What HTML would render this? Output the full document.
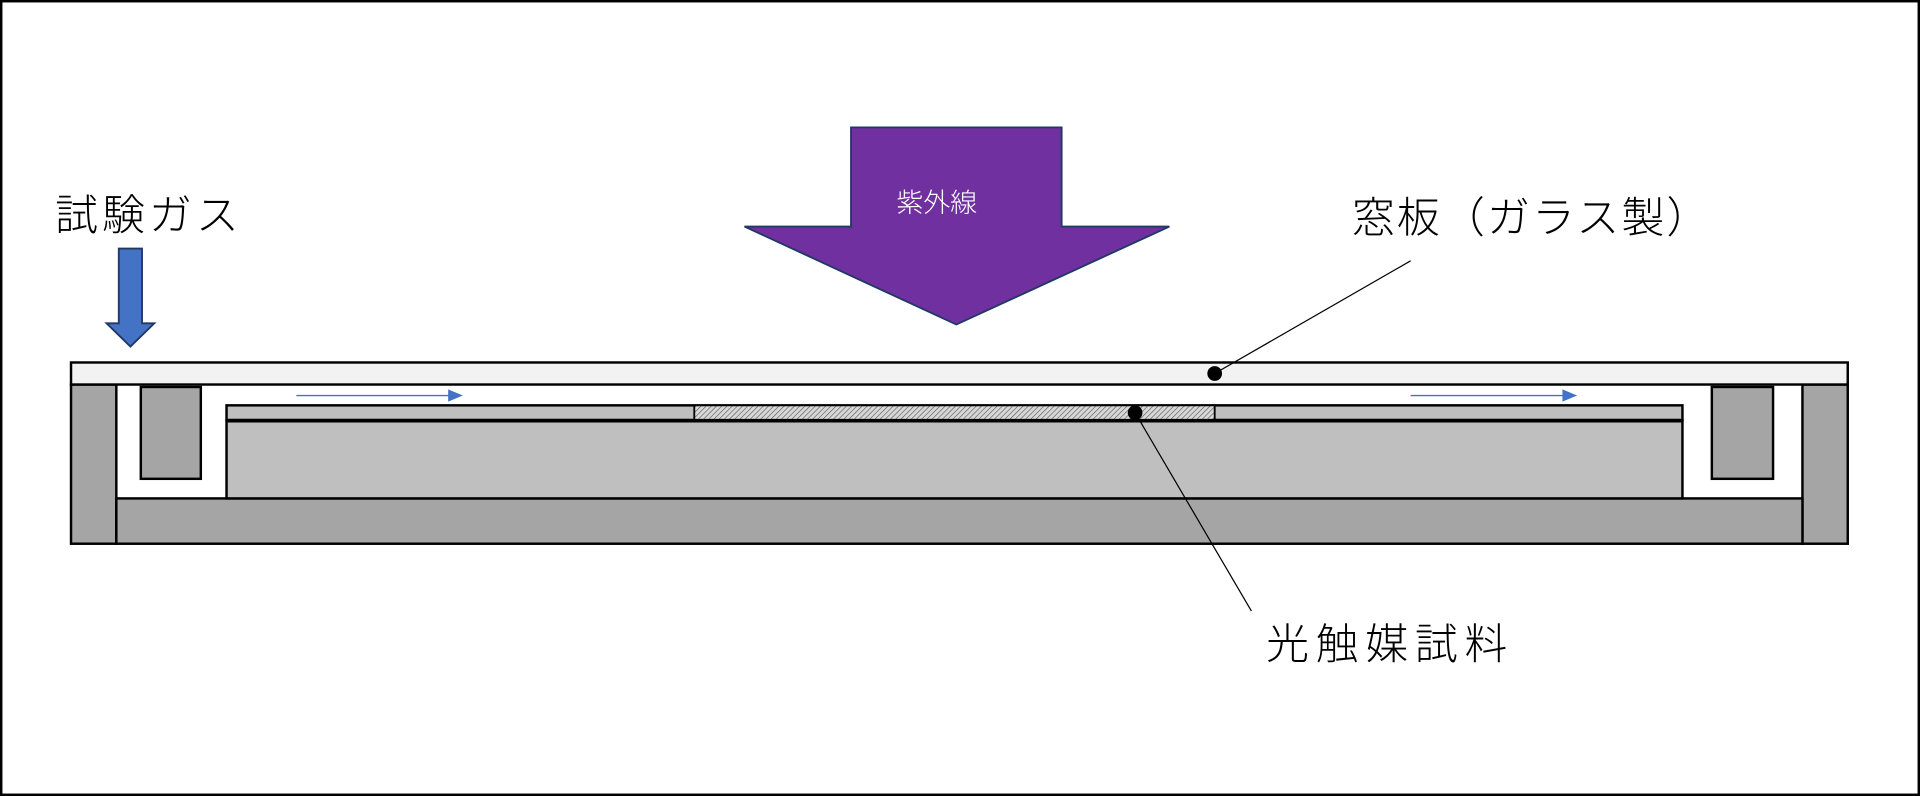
<!DOCTYPE html>
<html><head><meta charset="utf-8"><style>
html,body{margin:0;padding:0;background:#fff;}
svg{display:block;}
text{font-family:"Liberation Sans","Noto Sans CJK JP",sans-serif;font-weight:300;}
</style></head><body>
<svg width="1920" height="796" viewBox="0 0 1568 650" preserveAspectRatio="none" xmlns="http://www.w3.org/2000/svg">
<defs>
<pattern id="h" width="3" height="3" patternUnits="userSpaceOnUse" patternTransform="rotate(45)">
<rect width="3" height="3" fill="#d8d8d8"/><line x1="0" y1="0" x2="0" y2="3" stroke="#555" stroke-width="1"/>
</pattern>
</defs>
<rect x="1" y="1" width="1566" height="648" fill="#fff" stroke="#000" stroke-width="2"/>
<rect x="58" y="314" width="37" height="130" fill="#a5a5a5" stroke="#000" stroke-width="2"/>
<rect x="1472" y="314" width="37" height="130" fill="#a5a5a5" stroke="#000" stroke-width="2"/>
<rect x="95" y="407" width="1377" height="37" fill="#a5a5a5" stroke="#000" stroke-width="2"/>
<rect x="115" y="316" width="49" height="75" fill="#a5a5a5" stroke="#000" stroke-width="2"/>
<rect x="1398" y="316" width="50" height="75" fill="#a5a5a5" stroke="#000" stroke-width="2"/>
<rect x="185" y="343" width="1189" height="64" fill="#bfbfbf" stroke="#000" stroke-width="2"/>
<rect x="185" y="331" width="1189" height="12" fill="#bfbfbf" stroke="#000" stroke-width="2"/>
<rect x="567" y="331" width="425" height="12" fill="url(#h)" stroke="#000" stroke-width="1.5"/>
<line x1="185" y1="343.5" x2="1374" y2="343.5" stroke="#000" stroke-width="3"/>
<rect x="58" y="296" width="1451" height="18" fill="#f2f2f2" stroke="#000" stroke-width="2"/>
<line x1="242" y1="323" x2="368" y2="323" stroke="#4472c4" stroke-width="1.2"/>
<polygon points="366,318 378,323 366,328" fill="#4472c4"/>
<line x1="1152" y1="323" x2="1278" y2="323" stroke="#4472c4" stroke-width="1.2"/>
<polygon points="1276,318 1288,323 1276,328" fill="#4472c4"/>
<polygon points="97,203 116,203 116,264 126,264 106.5,283 87,264 97,264" fill="#4472c4" stroke="#1f3864" stroke-width="1.5"/>
<text x="45" y="188" font-size="35" textLength="150" lengthAdjust="spacing">試験ガス</text>
<polygon points="695,104 867,104 867,185 955,185 781,265 608,185 695,185" fill="#7030a0" stroke="#1f3864" stroke-width="1.5"/>
<text x="732" y="173" font-size="22" fill="#fff">紫外線</text>
<text x="1104" y="190" font-size="35" textLength="292" lengthAdjust="spacing">窓板（ガラス製）</text>
<line x1="1152" y1="213" x2="992" y2="305" stroke="#000" stroke-width="1"/>
<circle cx="992" cy="305" r="6" fill="#000"/>
<text x="1034" y="538" font-size="35" textLength="197" lengthAdjust="spacing">光触媒試料</text>
<line x1="1022" y1="499" x2="927" y2="337" stroke="#000" stroke-width="1"/>
<circle cx="927" cy="337" r="6" fill="#000"/>
</svg>
</body></html>
